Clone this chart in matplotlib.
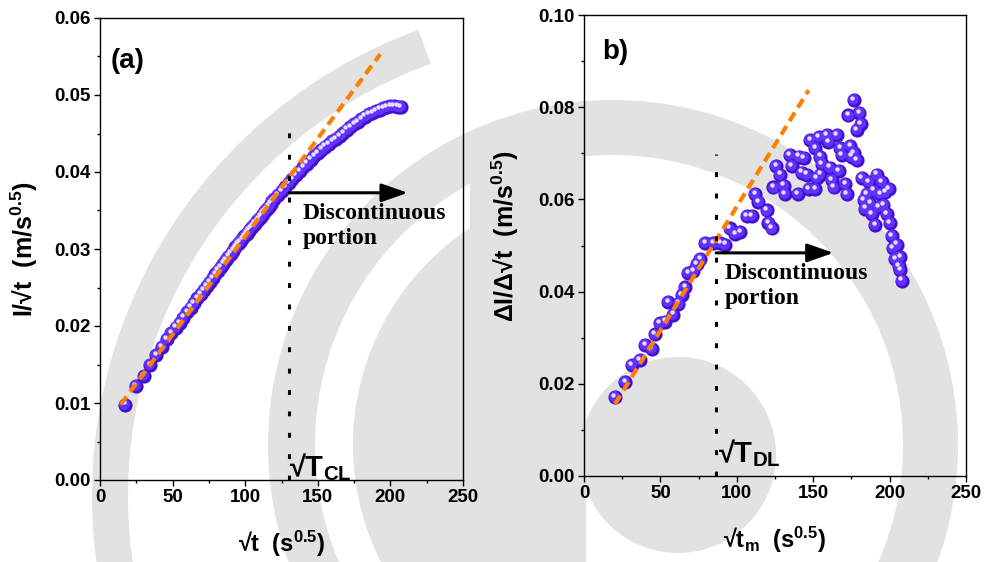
import numpy as np
import matplotlib
matplotlib.use("Agg")
import matplotlib.pyplot as plt
from matplotlib.patches import Wedge, Circle, Rectangle
from matplotlib.transforms import offset_copy

plt.rcParams['font.family'] = ['Liberation Sans', 'DejaVu Sans']
plt.rcParams['font.weight'] = 'bold'
plt.rcParams['axes.labelweight'] = 'bold'
plt.rcParams['mathtext.fontset'] = 'custom'
plt.rcParams['mathtext.bf'] = 'Liberation Sans:bold'
plt.rcParams['mathtext.rm'] = 'Liberation Sans:bold'
plt.rcParams['mathtext.it'] = 'Liberation Sans:bold'
plt.rcParams['mathtext.default'] = 'bf'

# ---- panel (a): I/sqrt(t) vs sqrt(t)
a_x = [17.3, 24.5, 30.0, 34.6, 38.7, 42.4, 45.8, 49.0, 52.0, 54.8, 57.4, 60.0,
       62.4, 64.8, 67.1, 69.3, 71.4, 73.5, 75.5, 77.5, 79.4, 81.2, 83.1, 84.9,
       86.6, 88.3, 90.0, 91.7, 93.3, 94.9, 96.4, 98.0, 99.5, 101.0, 102.5, 103.9,
       105.4, 106.8, 108.2, 109.5, 110.9, 112.2, 113.6, 114.9, 116.2, 117.5, 118.7, 120.0,
       122.5, 125.0, 127.5, 130.0, 132.5, 135.0, 137.5, 140.0, 142.5, 145.0, 147.5, 150.0,
       152.5, 155.0, 157.5, 160.0, 162.5, 165.0, 167.5, 170.0, 172.5, 175.0, 177.5, 180.0,
       182.5, 185.0, 187.5, 190.0, 192.5, 195.0, 197.5, 200.0, 202.5, 205.0, 207.0]
a_y = [0.0098, 0.0122, 0.0135, 0.0149, 0.0162, 0.0173, 0.0183, 0.0191, 0.0198, 0.0204, 0.0211, 0.0218,
       0.0224, 0.0230, 0.0236, 0.0241, 0.0247, 0.0252, 0.0257, 0.0262, 0.0267, 0.0272, 0.0277, 0.0281,
       0.0286, 0.0290, 0.0294, 0.0298, 0.0302, 0.0306, 0.0309, 0.0313, 0.0317, 0.0320, 0.0324, 0.0327,
       0.0330, 0.0333, 0.0336, 0.0339, 0.0342, 0.0346, 0.0349, 0.0352, 0.0355, 0.0359, 0.0362, 0.0365,
       0.0370, 0.0375, 0.0380, 0.0386, 0.0391, 0.0396, 0.0401, 0.0406, 0.0411, 0.0416, 0.0421, 0.0425,
       0.0429, 0.0433, 0.0436, 0.0440, 0.0443, 0.0447, 0.0451, 0.0455, 0.0458, 0.0462, 0.0465, 0.0469,
       0.0472, 0.0475, 0.0477, 0.0479, 0.0481, 0.0483, 0.0484, 0.0486, 0.0486, 0.0485, 0.0484]
a_fit_x = [14.2, 193.0]
a_fit_y = [0.0098, 0.0553]
a_tcl = 130.5

# ---- panel (b): dI/d sqrt(t) vs sqrt(t_m)
b_x = [20.3, 26.9, 31.2, 36.7, 40.0, 44.3, 46.5, 49.8, 53.1, 55.2, 58.5, 61.8,
       64.0, 66.2, 68.3, 71.6, 73.8, 76.0, 79.3, 84.7, 89.1, 92.4, 95.6, 98.9,
       102.2, 106.6, 109.8, 112.0, 114.2, 119.7, 120.7, 122.9, 124.0, 125.8, 128.4, 130.6,
       131.6, 134.5, 136.0, 140.0, 140.4, 143.7, 142.6, 145.9, 147.0, 151.3, 148.0, 151.3,
       153.5, 154.6, 155.7, 154.6, 152.4, 159.0, 160.0, 161.0, 162.0, 163.3, 165.5, 166.6,
       167.7, 168.8, 171.0, 172.0, 174.2, 175.3, 176.4, 178.6, 173.1, 176.4, 178.6, 180.3,
       181.2, 181.9, 183.0, 184.0, 185.2, 186.2, 187.3, 188.4, 190.6, 189.5, 191.7, 192.8,
       193.9, 195.0, 196.0, 197.2, 198.3, 199.3, 200.0, 201.5, 202.2, 203.7, 204.8, 205.9,
       207.0, 207.0, 208.0]
b_y = [0.0171, 0.0204, 0.0241, 0.0251, 0.0284, 0.0276, 0.0307, 0.0331, 0.0335, 0.0377, 0.0350, 0.0374,
       0.0393, 0.0409, 0.0440, 0.0444, 0.0459, 0.0471, 0.0506, 0.0506, 0.0506, 0.0502, 0.0537, 0.0525,
       0.0529, 0.0564, 0.0564, 0.0611, 0.0595, 0.0576, 0.0549, 0.0537, 0.0626, 0.0673, 0.0654, 0.0630,
       0.0611, 0.0696, 0.0673, 0.0611, 0.0693, 0.0689, 0.0658, 0.0654, 0.0623, 0.0623, 0.0728, 0.0712,
       0.0735, 0.0693, 0.0677, 0.0654, 0.0646, 0.0739, 0.0724, 0.0669, 0.0642, 0.0626, 0.0739, 0.0661,
       0.0712, 0.0696, 0.0634, 0.0611, 0.0716, 0.0693, 0.0700, 0.0685, 0.0782, 0.0816, 0.0751, 0.0788,
       0.0763, 0.0646, 0.0599, 0.0580, 0.0611, 0.0638, 0.0591, 0.0568, 0.0545, 0.0619, 0.0654, 0.0584,
       0.0611, 0.0638, 0.0588, 0.0615, 0.0568, 0.0623, 0.0549, 0.0521, 0.0494, 0.0471, 0.0502, 0.0455,
       0.0475, 0.0447, 0.0424]
b_fit_x = [20.3, 147.0]
b_fit_y = [0.0156, 0.0837]
b_tdl = 86.5

fig = plt.figure(figsize=(9.84, 5.62), dpi=100)
fig.patch.set_facecolor('white')

# faint watermark behind the plots (figure pixels, y up)
bg = fig.add_axes([0, 0, 1, 1], zorder=-10)
bg.set_xlim(0, 984)
bg.set_ylim(0, 562)
bg.axis('off')
wm = '#e2e2e2'
bg.add_patch(Wedge((588, 66), 496, 110, 195, width=36, color=wm, lw=0))
bg.add_patch(Wedge((613, 117), 345, -25, 100, width=55, color=wm, lw=0))
left_clip = Rectangle((0, 0), 586, 562, transform=bg.transData)
big = Circle((613, 117), 345, color=wm, lw=0)
bg.add_patch(big)
big.set_clip_path(left_clip)
ring_clip = Rectangle((0, 0), 470, 562, transform=bg.transData)
ring = Wedge((613, 117), 298, 0, 360, width=38, color='white', lw=0)
bg.add_patch(ring)
ring.set_clip_path(ring_clip)
bg.add_patch(Circle((678, 107), 98, color=wm, lw=0))

ax_a = fig.add_axes([100/984, 82/562, 363/984, 462/562])
ax_b = fig.add_axes([584/984, 86/562, 382/984, 461/562])


def spheres(ax, xs, ys):
    # shaded ball markers, one ball at a time so later ones sit on top
    t1 = offset_copy(ax.transData, fig=fig, x=-0.9, y=0.9, units='dots')
    t2 = offset_copy(ax.transData, fig=fig, x=-1.6, y=2.2, units='dots')
    z = 3
    for x, y in zip(xs, ys):
        ax.scatter([x], [y], s=104, color='#4310d0', lw=0, zorder=z)
        ax.scatter([x], [y], s=60, color='#6233ff', lw=0, zorder=z + 0.1, transform=t1)
        ax.scatter([x], [y], s=10, color='#e6e0ff', lw=0, zorder=z + 0.2, transform=t2)
        z += 0.001


def style(ax, ymax, ymajor, yminor):
    ax.set_facecolor('none')
    ax.set_xlim(0, 250)
    ax.set_ylim(0, ymax)
    ax.set_xticks(np.arange(0, 251, 50))
    ax.set_xticks(np.arange(0, 251, 25), minor=True)
    ax.set_yticks(np.arange(0, ymax + 1e-9, ymajor))
    ax.set_yticks(np.arange(0, ymax + 1e-9, yminor), minor=True)
    ax.yaxis.set_major_formatter(matplotlib.ticker.FormatStrFormatter('%.2f'))
    ax.tick_params(which='major', direction='out', length=4.5, width=1.0,
                   labelsize=13.5, pad=2)
    ax.tick_params(which='minor', direction='out', length=2.3, width=1.0)
    for s in ax.spines.values():
        s.set_linewidth(1.0)


# ---- (a)
spheres(ax_a, a_x, a_y)
ax_a.plot(a_fit_x, a_fit_y, color='#ff8000', lw=3.0, dashes=(2.4, 1.4), zorder=10)
ax_a.plot([a_tcl, a_tcl], [0, 0.0467], color='k', lw=2.2, ls=(0, (1.6, 5.4)), zorder=11)
ax_a.annotate('', xy=(212, 0.0373), xytext=(a_tcl, 0.0373),
              arrowprops=dict(arrowstyle='-|>,head_length=0.8,head_width=0.28', color='k',
                              lw=2.2, mutation_scale=20, shrinkA=0, shrinkB=0), zorder=12)
ax_a.text(139.8, 0.0360, 'Discontinuous\nportion', family='Liberation Serif', weight='bold',
          fontsize=17, ha='left', va='top', linespacing=1.25)
ax_a.text(a_tcl, 0.0005, r'√T$_{CL}$', fontsize=21, ha='left', va='baseline')
ax_a.text(7.6, 0.0544, '(a)', fontsize=20, ha='left', va='center')
style(ax_a, 0.06, 0.01, 0.005)
ax_a.set_ylabel(r'I/√t  (m/s$^{0.5}$)', fontsize=18)
ax_a.yaxis.set_label_coords(-0.165, 0.5)
ax_a.set_xlabel(r'√t  (s$^{0.5}$)', fontsize=17)
ax_a.xaxis.set_label_coords(0.5, -0.105)

# ---- (b)
spheres(ax_b, b_x, b_y)
ax_b.plot(b_fit_x, b_fit_y, color='#ff8000', lw=3.0, dashes=(2.4, 1.4), zorder=10)
ax_b.plot([b_tdl, b_tdl], [0, 0.0698], color='k', lw=2.2, ls=(0, (1.6, 5.4)), zorder=11)
ax_b.annotate('', xy=(163.3, 0.0484), xytext=(b_tdl, 0.0484),
              arrowprops=dict(arrowstyle='-|>,head_length=0.8,head_width=0.28', color='k',
                              lw=2.2, mutation_scale=20, shrinkA=0, shrinkB=0), zorder=12)
ax_b.text(92.3, 0.0461, 'Discontinuous\nportion', family='Liberation Serif', weight='bold',
          fontsize=17, ha='left', va='top', linespacing=1.25)
ax_b.text(88.0, 0.003, r'√T$_{DL}$', fontsize=21, ha='left', va='baseline')
ax_b.text(11.8, 0.0919, 'b)', fontsize=20, ha='left', va='center')
style(ax_b, 0.10, 0.02, 0.01)
ax_b.set_ylabel(r'ΔI/Δ√t  (m/s$^{0.5}$)', fontsize=18)
ax_b.yaxis.set_label_coords(-0.165, 0.52)
ax_b.set_xlabel(r'√t$_{m}$  (s$^{0.5}$)', fontsize=17)
ax_b.xaxis.set_label_coords(0.5, -0.106)

fig.savefig('out.png', dpi=100)
